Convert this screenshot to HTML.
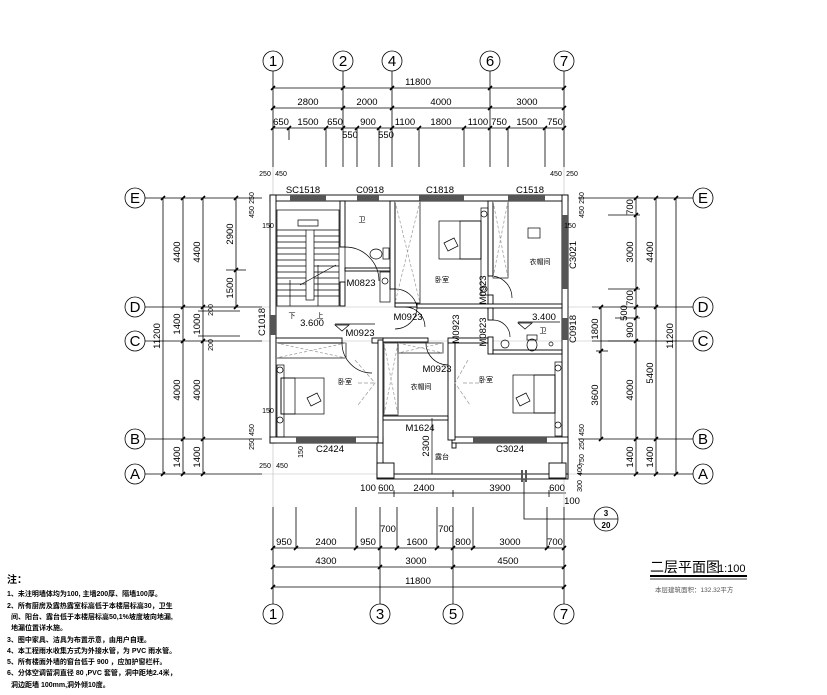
<!DOCTYPE html>
<html><head><meta charset="utf-8"><style>
html,body{margin:0;padding:0;background:#fff;}
svg{display:block;}
text{font-family:"Liberation Sans","Noto Sans CJK SC",sans-serif;fill:#000;}
.d{font-size:9.5px;}
.s{font-size:7px;}
.c{font-size:15px;}
.r{font-size:7px;}
</style></head><body>
<svg width="827" height="695" viewBox="0 0 827 695" xmlns="http://www.w3.org/2000/svg">
<rect width="827" height="695" fill="#fff"/>
<g stroke="#000" stroke-width="0.8" fill="none">
<circle cx="273" cy="61" r="10"/><circle cx="343" cy="61" r="10"/><circle cx="392" cy="61" r="10"/><circle cx="490" cy="61" r="10"/><circle cx="564" cy="61" r="10"/>
<line x1="273" y1="71" x2="273" y2="167"/><line x1="343" y1="71" x2="343" y2="167"/><line x1="392" y1="71" x2="392" y2="167"/><line x1="490" y1="71" x2="490" y2="167"/><line x1="564" y1="71" x2="564" y2="167"/>
<line x1="273" y1="88" x2="564" y2="88"/><line x1="273" y1="108" x2="564" y2="108"/><line x1="273" y1="128" x2="564" y2="128"/>
<line x1="289" y1="128" x2="289" y2="140"/><line x1="326" y1="128" x2="326" y2="167"/><line x1="357" y1="128" x2="357" y2="167"/><line x1="379" y1="128" x2="379" y2="167"/><line x1="419" y1="128" x2="419" y2="167"/><line x1="464" y1="128" x2="464" y2="167"/><line x1="508" y1="128" x2="508" y2="167"/><line x1="545" y1="128" x2="545" y2="167"/>
<circle cx="273" cy="614" r="10"/><circle cx="380" cy="614" r="10"/><circle cx="453" cy="614" r="10"/><circle cx="564" cy="614" r="10"/>
<line x1="273" y1="507" x2="273" y2="604"/><line x1="380" y1="507" x2="380" y2="604"/><line x1="453" y1="507" x2="453" y2="604"/><line x1="564" y1="507" x2="564" y2="604"/>
<line x1="273" y1="548" x2="564" y2="548"/><line x1="273" y1="567" x2="564" y2="567"/><line x1="273" y1="587" x2="564" y2="587"/>
<line x1="296" y1="507" x2="296" y2="548"/><line x1="356" y1="507" x2="356" y2="548"/><line x1="397" y1="507" x2="397" y2="548"/><line x1="437" y1="507" x2="437" y2="548"/><line x1="473" y1="507" x2="473" y2="548"/><line x1="547" y1="507" x2="547" y2="548"/>
<line x1="378" y1="493" x2="566" y2="493"/><line x1="394" y1="490" x2="394" y2="497"/><line x1="453" y1="490" x2="453" y2="497"/><line x1="549" y1="490" x2="549" y2="497"/>
<polyline points="524,476 524,519 594,519"/><circle cx="606" cy="519" r="12"/><line x1="594" y1="519" x2="618" y2="519"/>
<circle cx="135" cy="198" r="10"/><circle cx="135" cy="307" r="10"/><circle cx="135" cy="341" r="10"/><circle cx="135" cy="439" r="10"/><circle cx="135" cy="474" r="10"/>
<line x1="145" y1="198" x2="262" y2="198"/><line x1="145" y1="307" x2="262" y2="307"/><line x1="145" y1="341" x2="262" y2="341"/><line x1="145" y1="439" x2="262" y2="439"/><line x1="145" y1="474" x2="262" y2="474"/>
<line x1="163" y1="198" x2="163" y2="474"/><line x1="183" y1="198" x2="183" y2="474"/><line x1="203" y1="198" x2="203" y2="474"/><line x1="236" y1="198" x2="236" y2="307"/><line x1="226" y1="270" x2="246" y2="270"/>
<line x1="198" y1="311" x2="240" y2="311"/><line x1="198" y1="336" x2="240" y2="336"/>
<circle cx="703" cy="198" r="10"/><circle cx="703" cy="307" r="10"/><circle cx="703" cy="341" r="10"/><circle cx="703" cy="439" r="10"/><circle cx="703" cy="474" r="10"/>
<line x1="578" y1="198" x2="693" y2="198"/><line x1="592" y1="307" x2="693" y2="307"/><line x1="592" y1="341" x2="693" y2="341"/><line x1="578" y1="439" x2="693" y2="439"/><line x1="578" y1="474" x2="693" y2="474"/>
<line x1="601" y1="307" x2="601" y2="439"/><line x1="596" y1="351" x2="608" y2="351"/>
<line x1="636" y1="198" x2="636" y2="474"/><line x1="656" y1="198" x2="656" y2="474"/><line x1="676" y1="198" x2="676" y2="474"/>
<line x1="608" y1="215" x2="640" y2="215"/><line x1="608" y1="289" x2="640" y2="289"/><line x1="615" y1="318" x2="640" y2="318"/><line x1="608" y1="341" x2="640" y2="341"/>
<g stroke="#bbb" stroke-width="0.6"><line x1="262" y1="307" x2="592" y2="307"/><line x1="262" y1="341" x2="592" y2="341"/><line x1="262" y1="474" x2="578" y2="474"/><line x1="273" y1="167" x2="273" y2="507"/><line x1="564" y1="167" x2="564" y2="507"/></g>
</g>
<g stroke="#000" stroke-width="1.6">
<path d="M271,90L275,86M341,90L345,86M390,90L394,86M488,90L492,86M562,90L566,86 M271,110L275,106M341,110L345,106M390,110L394,106M488,110L492,106M562,110L566,106 M271,130L275,126M287,130L291,126M324,130L328,126M341,130L345,126M355,130L359,126M377,130L381,126M390,130L394,126M417,130L421,126M462,130L466,126M488,130L492,126M506,130L510,126M543,130L547,126M562,130L566,126"/>
<path d="M271,550L275,546M294,550L298,546M354,550L358,546M378,550L382,546M395,550L399,546M435,550L439,546M451,550L455,546M471,550L475,546M545,550L549,546M562,550L566,546 M271,569L275,565M378,569L382,565M451,569L455,565M562,569L566,565 M271,589L275,585M562,589L566,585"/>
<path d="M161,200L165,196M161,476L165,472M181,200L185,196M181,309L185,305M181,343L185,339M181,441L185,437M181,476L185,472M201,200L205,196M201,309L205,305M201,343L205,339M201,441L205,437M201,476L205,472M234,200L238,196M234,272L238,268M234,309L238,305"/>
<path d="M599,309L603,305M599,353L603,349M599,441L603,437M634,200L638,196M634,217L638,213M634,291L638,287M634,309L638,305M634,320L638,316M634,343L638,339M634,441L638,437M634,476L638,472M654,200L658,196M654,309L658,305M654,441L658,437M654,476L658,472M674,200L678,196M674,476L678,472"/>
</g>
<g fill="#fff" stroke="#000" stroke-width="0.9">
<rect x="270" y="195" width="298" height="6"/>
<rect x="270" y="195" width="6" height="248"/>
<rect x="562" y="195" width="6" height="248"/>
<rect x="270" y="437" width="113" height="6"/>
<rect x="452" y="437" width="116" height="6"/>
<rect x="340" y="201" width="5" height="46"/><rect x="340" y="282" width="5" height="24"/>
<rect x="390" y="201" width="5" height="88"/>
<rect x="345" y="268" width="45" height="3"/>
<rect x="488" y="201" width="5" height="75"/><rect x="488" y="295" width="5" height="14"/>
<rect x="395" y="303" width="22" height="4"/><rect x="417" y="304" width="145" height="4"/>
<rect x="276" y="338" width="66" height="5"/><rect x="372" y="338" width="11" height="5"/>
<rect x="378" y="340" width="5" height="103"/>
<rect x="383" y="338" width="45" height="4"/>
<rect x="448" y="338" width="40" height="5"/>
<rect x="448" y="343" width="7" height="97"/>
<rect x="488" y="308" width="5" height="12"/><rect x="488" y="337" width="5" height="17"/>
<rect x="493" y="350" width="69" height="4"/>
<rect x="383" y="416" width="65" height="4"/>
<rect x="377" y="443" width="6" height="35"/>
<rect x="562" y="443" width="6" height="35"/>
<rect x="377" y="474" width="191" height="5"/>
<rect x="377" y="463" width="17" height="15"/><rect x="549" y="463" width="17" height="15"/>
<rect x="452" y="443" width="4" height="5"/>
</g>
<g fill="#555">
<rect x="290" y="195" width="36" height="6"/><rect x="357" y="195" width="22" height="6"/><rect x="419" y="195" width="45" height="6"/><rect x="508" y="195" width="37" height="6"/>
<rect x="562" y="215" width="6" height="74"/><rect x="562" y="318" width="6" height="22"/>
<rect x="270" y="315" width="6" height="20"/>
<rect x="296" y="437" width="60" height="6"/><rect x="473" y="437" width="74" height="6"/>
<rect x="521" y="470" width="2" height="12"/><rect x="525" y="470" width="2" height="12"/>
</g>
<g stroke="#000" stroke-width="0.7" fill="none">
<rect x="277" y="210" width="62" height="96"/>
<rect x="306" y="230" width="8" height="70"/>
<path d="M277,230H306M277,236H306M277,242H306M277,248H306M277,254H306M277,260H306M277,266H306M277,272H306M277,278H306M277,284H306M277,290H306M277,296H306 M314,230H339M314,236H339M314,242H339M314,248H339M314,254H339M314,260H339M314,266H339M314,272H339M314,278H339M314,284H339M314,290H339M314,296H339"/>
<path d="M300,285L336,265M318,265V306M290,280V306"/>
<path d="M298,226h20v-6h-20z"/>
<path d="M345,247A34,34 0 0 1 379,281M345,247V282"/>
<path d="M395,289A22,22 0 0 1 417,307M395,289V307"/>
<path d="M417,307A22,22 0 0 1 395,329"/>
<path d="M426,343A22,22 0 0 0 448,365"/>
<path d="M342,343A30,30 0 0 0 372,373"/>
<path d="M493,276A22,22 0 0 1 512,298"/>
<path d="M493,320A17,17 0 0 1 510,337"/>
<path d="M405,307A20,20 0 0 1 425,327"/>
<rect x="395" y="201" width="25" height="102"/><path d="M395,201L420,303M420,201L395,303" stroke="#999" stroke-dasharray="3,2"/>
<rect x="493" y="201" width="15" height="77"/><path d="M493,201L508,278M508,201L493,278" stroke="#999" stroke-dasharray="3,2"/>
<rect x="276" y="343" width="70" height="15"/><path d="M276,343L346,358M346,343L276,358" stroke="#999" stroke-dasharray="3,2"/>
<rect x="384" y="343" width="14" height="72"/><path d="M384,343L398,415M398,343L384,415" stroke="#999" stroke-dasharray="3,2"/>
<rect x="398" y="343" width="45" height="10"/><path d="M398,343L443,353M443,343L398,353" stroke="#999" stroke-dasharray="3,2"/>
<rect x="439" y="221" width="42" height="38"/><rect x="460" y="221" width="21" height="38"/><rect x="481" y="208" width="7" height="87"/>
<circle cx="484" cy="214" r="3"/><circle cx="484" cy="289" r="3"/>
<rect x="281" y="378" width="43" height="36"/><rect x="281" y="378" width="14" height="36"/><rect x="277" y="365" width="7" height="72"/>
<circle cx="280" cy="370" r="3"/><circle cx="280" cy="420" r="3"/>
<rect x="513" y="375" width="42" height="38"/><rect x="534" y="375" width="21" height="38"/><rect x="555" y="362" width="7" height="74"/>
<circle cx="558" cy="368" r="3"/><circle cx="558" cy="425" r="3"/>
<path d="M444,243l10,-5 4,8 -10,5z"/><path d="M307,398l10,-5 4,8 -10,5z"/><path d="M516,398l10,-5 4,8 -10,5z"/>
<rect x="380" y="272" width="10" height="30"/><circle cx="385" cy="281" r="3"/>
<ellipse cx="376" cy="254" rx="6" ry="5"/><rect x="383" y="248" width="6" height="11"/>
<ellipse cx="532" cy="345" rx="5" ry="6"/><rect x="527" y="335" width="10" height="5"/><circle cx="505" cy="344" r="4"/><circle cx="551" cy="344" r="2"/>
<rect x="528" y="228" width="12" height="10"/>
<path d="M358,383H375M463,383H482" stroke="#999" stroke-dasharray="4,2"/>
<path d="M355,360L375,383L358,405M468,360L455,383L470,405" stroke="#999" stroke-dasharray="4,2"/>
<path d="M335,325l7,6 7,-6z"/><path d="M518,323l7,6 7,-6z"/>
<line x1="335" y1="324" x2="375" y2="324"/><line x1="518" y1="322" x2="560" y2="322"/>
<line x1="432" y1="418" x2="432" y2="474"/>
<line x1="650" y1="576" x2="747" y2="576" stroke-width="2"/><line x1="650" y1="579" x2="747" y2="579" stroke-width="0.7"/>
</g>
<g class="d" text-anchor="middle">
<text x="418" y="85">11800</text>
<text x="308" y="105">2800</text><text x="367" y="105">2000</text><text x="441" y="105">4000</text><text x="527" y="105">3000</text>
<text x="281" y="125">650</text><text x="308" y="125">1500</text><text x="335" y="125">650</text><text x="368" y="125">900</text><text x="405" y="125">1100</text><text x="441" y="125">1800</text><text x="478" y="125">1100</text><text x="499" y="125">750</text><text x="527" y="125">1500</text><text x="555" y="125">750</text>
<text x="350" y="138">550</text><text x="386" y="138">550</text>
<text x="284" y="545">950</text><text x="326" y="545">2400</text><text x="368" y="545">950</text><text x="388" y="532">700</text><text x="417" y="545">1600</text><text x="446" y="532">700</text><text x="463" y="545">800</text><text x="510" y="545">3000</text><text x="555" y="545">700</text>
<text x="326" y="564">4300</text><text x="416" y="564">3000</text><text x="508" y="564">4500</text>
<text x="418" y="584">11800</text>
<text x="368" y="491">100</text><text x="386" y="491">600</text><text x="424" y="491">2400</text><text x="500" y="491">3900</text><text x="557" y="491">600</text><text x="572" y="504">100</text>
</g>
<g class="d" text-anchor="middle">
<text transform="translate(160,336) rotate(-90)">11200</text>
<text transform="translate(180,252) rotate(-90)">4400</text><text transform="translate(180,324) rotate(-90)">1400</text><text transform="translate(180,390) rotate(-90)">4000</text><text transform="translate(180,457) rotate(-90)">1400</text>
<text transform="translate(200,252) rotate(-90)">4400</text><text transform="translate(200,324) rotate(-90)">1000</text><text transform="translate(200,390) rotate(-90)">4000</text><text transform="translate(200,457) rotate(-90)">1400</text>
<text transform="translate(213,310) rotate(-90)" class="s">200</text><text transform="translate(213,345) rotate(-90)" class="s">200</text>
<text transform="translate(233,234) rotate(-90)">2900</text><text transform="translate(233,288) rotate(-90)">1500</text>
<text transform="translate(598,329) rotate(-90)">1800</text><text transform="translate(598,395) rotate(-90)">3600</text>
<text transform="translate(633,207) rotate(-90)">700</text><text transform="translate(633,252) rotate(-90)">3000</text><text transform="translate(633,298) rotate(-90)">700</text><text transform="translate(627,313) rotate(-90)">500</text><text transform="translate(633,330) rotate(-90)">900</text><text transform="translate(633,390) rotate(-90)">4000</text><text transform="translate(633,457) rotate(-90)">1400</text>
<text transform="translate(653,252) rotate(-90)">4400</text><text transform="translate(653,373) rotate(-90)">5400</text><text transform="translate(653,457) rotate(-90)">1400</text>
<text transform="translate(673,336) rotate(-90)">11200</text>
<text transform="translate(429,446) rotate(-90)">2300</text>
<text transform="translate(265,322) rotate(-90)">C1018</text>
<text transform="translate(576,255) rotate(-90)">C3021</text>
<text transform="translate(576,329) rotate(-90)">C0918</text>
<text transform="translate(486,290) rotate(-90)">M0923</text>
<text transform="translate(486,332) rotate(-90)">M0823</text>
<text transform="translate(459,329) rotate(-90)">M0923</text>
</g>
<g class="s" text-anchor="middle">
<text x="265" y="176">250</text><text x="281" y="176">450</text><text x="556" y="176">450</text><text x="572" y="176">250</text>
<text x="265" y="468">250</text><text x="282" y="468">450</text>
<text transform="translate(254,198) rotate(-90)">250</text><text transform="translate(254,212) rotate(-90)">450</text>
<text transform="translate(584,198) rotate(-90)">250</text><text transform="translate(584,212) rotate(-90)">450</text>
<text transform="translate(254,430) rotate(-90)">450</text><text transform="translate(254,444) rotate(-90)">250</text>
<text transform="translate(584,430) rotate(-90)">450</text><text transform="translate(584,444) rotate(-90)">250</text><text transform="translate(584,460) rotate(-90)">750</text><text transform="translate(582,470) rotate(-90)">400</text><text transform="translate(582,486) rotate(-90)">300</text>
<text x="268" y="228">150</text><text x="570" y="228">150</text><text x="268" y="413">150</text><text transform="translate(303,452) rotate(-90)">150</text>
</g>
<g class="d" text-anchor="middle">
<text x="303" y="193">SC1518</text><text x="370" y="193">C0918</text><text x="440" y="193">C1818</text><text x="530" y="193">C1518</text>
<text x="361" y="286">M0823</text><text x="408" y="320">M0923</text><text x="360" y="336">M0923</text><text x="312" y="326">3.600</text><text x="544" y="320">3.400</text>
<text x="437" y="372">M0923</text><text x="420" y="431">M1624</text>
<text x="330" y="452">C2424</text><text x="510" y="452">C3024</text>
</g>
<g class="r" text-anchor="middle">
<text x="362" y="222">卫</text><text x="442" y="282">卧室</text><text x="540" y="264">衣帽间</text><text x="543" y="333">卫</text>
<text x="345" y="384">卧室</text><text x="421" y="389">衣帽间</text><text x="486" y="382">卧室</text><text x="442" y="459">露台</text>
<text x="292" y="318">下</text><text x="320" y="318">上</text>
</g>
<g class="c" text-anchor="middle">
<text x="273" y="66">1</text><text x="343" y="66">2</text><text x="392" y="66">4</text><text x="490" y="66">6</text><text x="564" y="66">7</text>
<text x="273" y="619">1</text><text x="380" y="619">3</text><text x="453" y="619">5</text><text x="564" y="619">7</text>
<text x="135" y="203">E</text><text x="135" y="312">D</text><text x="135" y="346">C</text><text x="135" y="444">B</text><text x="135" y="479">A</text>
<text x="703" y="203">E</text><text x="703" y="312">D</text><text x="703" y="346">C</text><text x="703" y="444">B</text><text x="703" y="479">A</text>
</g>
<text x="606" y="516" text-anchor="middle" style="font-size:8px;font-weight:bold">3</text>
<text x="606" y="528" text-anchor="middle" style="font-size:8px;font-weight:bold">20</text>
<text x="650" y="572" style="font-size:14px">二层平面图</text><text x="718" y="572" style="font-size:11px">1:100</text>
<text x="655" y="592" style="font-size:6.5px;fill:#555">本层建筑面积：132.32平方</text>
<g style="font-size:7px;font-weight:bold">
<text x="7" y="583" style="font-size:10px">注：</text>
<text x="7" y="596">1、未注明墙体均为100, 主墙200厚、隔墙100厚。</text>
<text x="7" y="608">2、所有厨房及露热露室标高低于本楼层标高30，卫生</text>
<text x="11" y="619">间、阳台、露台低于本楼层标高50,1%坡度坡向地漏,</text>
<text x="11" y="630">地漏位置详水施。</text>
<text x="7" y="642">3、图中家具、洁具为布置示意，由用户自理。</text>
<text x="7" y="653">4、本工程雨水收集方式为外接水管，为 PVC 雨水管。</text>
<text x="7" y="664">5、所有楼面外墙的窗台低于 900 ，应加护窗栏杆。</text>
<text x="7" y="675">6、分体空调留洞直径 80 ,PVC 套管，洞中距地2.4米，</text>
<text x="11" y="687">洞边距墙 100mm,洞外倾10度。</text>
</g>
</svg>
</body></html>
